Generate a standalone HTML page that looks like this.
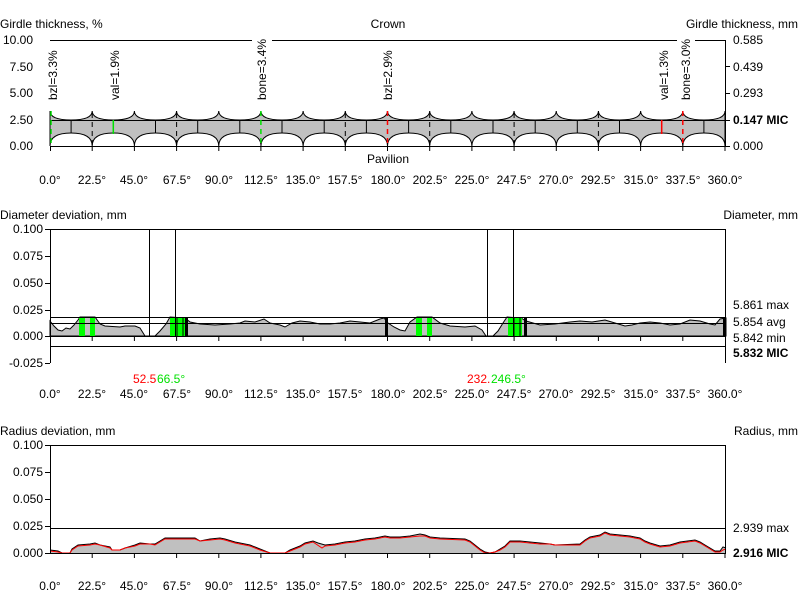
<!DOCTYPE html>
<html><head><meta charset="utf-8"><style>
html,body{margin:0;padding:0;background:#fff;}
svg{display:block;font-family:"Liberation Sans",Arial,sans-serif;font-size:12px;}
.b{font-weight:bold}
</style></head><body>
<svg width="800" height="609" viewBox="0 0 800 609" xmlns="http://www.w3.org/2000/svg">
<!-- ===== TOP PANEL ===== -->
<text x="0" y="28">Girdle thickness, %</text>
<text x="388" y="28" text-anchor="middle">Crown</text>
<text x="798" y="28" text-anchor="end">Girdle thickness, mm</text>
<g text-anchor="end">
<text x="33" y="44">10.00</text><text x="33" y="71">7.50</text><text x="33" y="97">5.00</text><text x="33" y="124">2.50</text><text x="33" y="150">0.00</text>
</g>
<text x="733" y="44">0.585</text><text x="733" y="71">0.439</text><text x="733" y="97">0.293</text><text x="733" y="124" class="b">0.147 MIC</text><text x="733" y="150">0.000</text>
<path d="M50 111
Q50 120 71.09 120 Q92.19 120 92.19 111
Q92.19 120 113.28 120 Q134.38 120 134.38 111
Q134.38 120 155.47 120 Q176.56 120 176.56 111
Q176.56 120 197.66 120 Q218.75 120 218.75 111
Q218.75 120 239.84 120 Q260.94 120 260.94 111
Q260.94 120 282.03 120 Q303.13 120 303.13 111
Q303.13 120 324.22 120 Q345.31 120 345.31 111
Q345.31 120 366.41 120 Q387.5 120 387.5 111
Q387.5 120 408.59 120 Q429.69 120 429.69 111
Q429.69 120 450.78 120 Q471.88 120 471.88 111
Q471.88 120 492.97 120 Q514.06 120 514.06 111
Q514.06 120 535.16 120 Q556.25 120 556.25 111
Q556.25 120 577.34 120 Q598.44 120 598.44 111
Q598.44 120 619.53 120 Q640.63 120 640.63 111
Q640.63 120 661.72 120 Q682.81 120 682.81 111
Q682.81 120 703.91 120 Q725 120 725 111
L725 146
Q725 133 703.91 133 Q682.81 133 682.81 146
Q682.81 133 661.72 133 Q640.63 133 640.63 146
Q640.63 133 619.53 133 Q598.44 133 598.44 146
Q598.44 133 577.34 133 Q556.25 133 556.25 146
Q556.25 133 535.16 133 Q514.06 133 514.06 146
Q514.06 133 492.97 133 Q471.88 133 471.88 146
Q471.88 133 450.78 133 Q429.69 133 429.69 146
Q429.69 133 408.59 133 Q387.5 133 387.5 146
Q387.5 133 366.41 133 Q345.31 133 345.31 146
Q345.31 133 324.22 133 Q303.13 133 303.13 146
Q303.13 133 282.03 133 Q260.94 133 260.94 146
Q260.94 133 239.84 133 Q218.75 133 218.75 146
Q218.75 133 197.66 133 Q176.56 133 176.56 146
Q176.56 133 155.47 133 Q134.38 133 134.38 146
Q134.38 133 113.28 133 Q92.19 133 92.19 146
Q92.19 133 71.09 133 Q50 133 50 146 Z" fill="#c0c0c0" stroke="#000" stroke-width="1"/>
<line x1="50" y1="120.5" x2="725" y2="120.5" stroke="#000"/>
<g stroke="#000">
<line x1="71.1" y1="120" x2="71.1" y2="133"/><line x1="155.5" y1="120" x2="155.5" y2="133"/><line x1="197.7" y1="120" x2="197.7" y2="133"/><line x1="239.8" y1="120" x2="239.8" y2="133"/><line x1="282" y1="120" x2="282" y2="133"/><line x1="324.2" y1="120" x2="324.2" y2="133"/><line x1="366.4" y1="120" x2="366.4" y2="133"/><line x1="408.6" y1="120" x2="408.6" y2="133"/><line x1="450.8" y1="120" x2="450.8" y2="133"/><line x1="493" y1="120" x2="493" y2="133"/><line x1="535.2" y1="120" x2="535.2" y2="133"/><line x1="577.3" y1="120" x2="577.3" y2="133"/><line x1="619.5" y1="120" x2="619.5" y2="133"/><line x1="703.9" y1="120" x2="703.9" y2="133"/>
</g>
<line x1="113.3" y1="120" x2="113.3" y2="134" stroke="#00e000" stroke-width="1.5"/>
<line x1="661.7" y1="120" x2="661.7" y2="134" stroke="#f00" stroke-width="1.5"/>
<g stroke="#000" stroke-dasharray="5,4">
<line x1="92.2" y1="113" x2="92.2" y2="146"/><line x1="176.6" y1="113" x2="176.6" y2="146"/><line x1="345.3" y1="113" x2="345.3" y2="146"/><line x1="429.7" y1="113" x2="429.7" y2="146"/><line x1="514.1" y1="113" x2="514.1" y2="146"/><line x1="598.4" y1="113" x2="598.4" y2="146"/>
</g>
<g stroke-dasharray="5,4" stroke-width="1.5">
<line x1="51" y1="111" x2="51" y2="146" stroke="#00e000"/>
<line x1="260.9" y1="111" x2="260.9" y2="146" stroke="#00e000"/>
<line x1="387.5" y1="111" x2="387.5" y2="146" stroke="#f00"/>
<line x1="682.8" y1="111" x2="682.8" y2="146" stroke="#f00"/>
</g>
<g stroke="#000">
<line x1="50" y1="40.5" x2="252" y2="40.5"/><line x1="272" y1="40.5" x2="677" y2="40.5"/><line x1="695" y1="40.5" x2="726" y2="40.5"/>
<line x1="725.5" y1="40" x2="725.5" y2="146"/>
<line x1="725" y1="66.5" x2="730" y2="66.5"/><line x1="725" y1="93.5" x2="730" y2="93.5"/><line x1="725" y1="120.5" x2="730" y2="120.5"/><line x1="725" y1="146.5" x2="730" y2="146.5"/>
<line x1="50" y1="146.5" x2="726" y2="146.5"/>
<line x1="50.5" y1="146" x2="50.5" y2="151"/><line x1="92.2" y1="146" x2="92.2" y2="151"/><line x1="134.4" y1="146" x2="134.4" y2="151"/><line x1="176.6" y1="146" x2="176.6" y2="151"/><line x1="218.8" y1="146" x2="218.8" y2="151"/><line x1="260.9" y1="146" x2="260.9" y2="151"/><line x1="303.1" y1="146" x2="303.1" y2="151"/><line x1="345.3" y1="146" x2="345.3" y2="151"/><line x1="387.5" y1="146" x2="387.5" y2="151"/><line x1="429.7" y1="146" x2="429.7" y2="151"/><line x1="471.9" y1="146" x2="471.9" y2="151"/><line x1="514.1" y1="146" x2="514.1" y2="151"/><line x1="556.3" y1="146" x2="556.3" y2="151"/><line x1="598.4" y1="146" x2="598.4" y2="151"/><line x1="640.6" y1="146" x2="640.6" y2="151"/><line x1="682.8" y1="146" x2="682.8" y2="151"/><line x1="725" y1="146" x2="725" y2="151"/>
</g>
<g>
<text transform="translate(57,100) rotate(-90)">bzl=3.3%</text>
<text transform="translate(119,100) rotate(-90)">val=1.9%</text>
<text transform="translate(266,100) rotate(-90)">bone=3.4%</text>
<text transform="translate(392,100) rotate(-90)">bzl=2.9%</text>
<text transform="translate(668,100) rotate(-90)">val=1.3%</text>
<text transform="translate(690,100) rotate(-90)">bone=3.0%</text>
</g>
<text x="388" y="163" text-anchor="middle">Pavilion</text>
<g text-anchor="middle">
<text x="50" y="184">0.0°</text><text x="92" y="184">22.5°</text><text x="134" y="184">45.0°</text><text x="177" y="184">67.5°</text><text x="219" y="184">90.0°</text><text x="261" y="184">112.5°</text><text x="303" y="184">135.0°</text><text x="345" y="184">157.5°</text><text x="388" y="184">180.0°</text><text x="430" y="184">202.5°</text><text x="472" y="184">225.0°</text><text x="514" y="184">247.5°</text><text x="556" y="184">270.0°</text><text x="598" y="184">292.5°</text><text x="641" y="184">315.0°</text><text x="683" y="184">337.5°</text><text x="725" y="184">360.0°</text>
</g>

<!-- ===== MIDDLE PANEL ===== -->
<text x="0" y="219">Diameter deviation, mm</text>
<text x="798" y="219" text-anchor="end">Diameter, mm</text>
<g text-anchor="end">
<text x="43" y="233">0.100</text><text x="43" y="260">0.075</text><text x="43" y="287">0.050</text><text x="43" y="314">0.025</text><text x="43" y="340">0.000</text><text x="43" y="367">-0.025</text>
</g>
<text x="733" y="309">5.861 max</text><text x="733" y="326">5.854 avg</text><text x="733" y="342">5.842 min</text><text x="733" y="357" class="b">5.832 MIC</text>
<path d="M50 336 L50 321 L54 326 L58 330 L62 331 L66 328 L70 329 L74 325 L78 320 L80 317 L95 317 L100 324 L105 326 L120 327 L125 326 L135 326 L140 328 L145 336 L155 336 L160 331 L166 324 L170 317 L185 318 L190 322 L200 324 L215 325 L230 324 L240 323 L245 321 L255 322 L264 319 L270 323 L280 325 L285 327 L292 323 L300 321 L310 322 L320 324 L330 324 L340 323 L350 321 L360 322 L370 323 L380 319 L384 318 L388 323 L394 327 L400 330 L405 331 L410 322 L417 317 L432 317 L440 323 L450 326 L465 327 L475 326 L482 330 L486 336 L493 336 L498 331 L503 323 L507 317 L521 318 L526 321 L540 325 L555 324 L570 322 L580 321 L592 322 L605 320 L615 323 L625 326 L632 325 L640 323 L650 322 L660 323 L670 325 L680 324 L690 320 L700 321 L710 324 L715 325 L720 319 L726 318 L726 336 Z" fill="#c0c0c0" stroke="#000" stroke-width="1"/>
<g fill="#00ff00">
<rect x="79" y="317" width="6" height="19"/><rect x="90" y="317" width="5" height="19"/>
<rect x="170" y="317" width="15" height="19"/>
<rect x="416" y="317" width="6" height="19"/><rect x="427" y="317" width="5" height="19"/>
<rect x="508" y="317" width="14" height="19"/>
</g>
<g stroke="#000"><line x1="177" y1="317" x2="177" y2="336"/><line x1="183" y1="317" x2="183" y2="336"/><line x1="514" y1="317" x2="514" y2="336"/><line x1="520" y1="317" x2="520" y2="336"/></g>
<g fill="#000"><rect x="185" y="317" width="3" height="19"/><rect x="385" y="317" width="3" height="19"/><rect x="524" y="317" width="3" height="19"/><rect x="723" y="317" width="3" height="19"/></g>
<g stroke="#000">
<line x1="50" y1="229.5" x2="726" y2="229.5"/>
<line x1="50.5" y1="229" x2="50.5" y2="363"/>
<line x1="725.5" y1="229" x2="725.5" y2="363"/>
<line x1="45" y1="229.5" x2="50" y2="229.5"/><line x1="45" y1="256.5" x2="50" y2="256.5"/><line x1="45" y1="283.5" x2="50" y2="283.5"/><line x1="45" y1="310.5" x2="50" y2="310.5"/><line x1="45" y1="336.5" x2="50" y2="336.5"/><line x1="45" y1="363.5" x2="50" y2="363.5"/>
<line x1="50" y1="317.5" x2="726" y2="317.5"/><line x1="50" y1="323.5" x2="726" y2="323.5"/>
<line x1="50" y1="336.5" x2="726" y2="336.5"/><line x1="50" y1="346.5" x2="726" y2="346.5"/>
<line x1="149.5" y1="229" x2="149.5" y2="336"/><line x1="175.5" y1="229" x2="175.5" y2="336"/>
<line x1="487.5" y1="229" x2="487.5" y2="336"/><line x1="513.5" y1="229" x2="513.5" y2="336"/>
<line x1="92.2" y1="336" x2="92.2" y2="341"/><line x1="134.4" y1="336" x2="134.4" y2="341"/><line x1="176.6" y1="336" x2="176.6" y2="341"/><line x1="218.8" y1="336" x2="218.8" y2="341"/><line x1="260.9" y1="336" x2="260.9" y2="341"/><line x1="303.1" y1="336" x2="303.1" y2="341"/><line x1="345.3" y1="336" x2="345.3" y2="341"/><line x1="387.5" y1="336" x2="387.5" y2="341"/><line x1="429.7" y1="336" x2="429.7" y2="341"/><line x1="471.9" y1="336" x2="471.9" y2="341"/><line x1="514.1" y1="336" x2="514.1" y2="341"/><line x1="556.3" y1="336" x2="556.3" y2="341"/><line x1="598.4" y1="336" x2="598.4" y2="341"/><line x1="640.6" y1="336" x2="640.6" y2="341"/><line x1="682.8" y1="336" x2="682.8" y2="341"/>
</g>
<text x="133" y="383" fill="#f00">52.5</text><text x="157" y="383" fill="#00e000">66.5°</text>
<text x="467" y="383" fill="#f00">232.</text><text x="491" y="383" fill="#00e000">246.5°</text>
<g text-anchor="middle">
<text x="50" y="398">0.0°</text><text x="92" y="398">22.5°</text><text x="134" y="398">45.0°</text><text x="177" y="398">67.5°</text><text x="219" y="398">90.0°</text><text x="261" y="398">112.5°</text><text x="303" y="398">135.0°</text><text x="345" y="398">157.5°</text><text x="388" y="398">180.0°</text><text x="430" y="398">202.5°</text><text x="472" y="398">225.0°</text><text x="514" y="398">247.5°</text><text x="556" y="398">270.0°</text><text x="598" y="398">292.5°</text><text x="641" y="398">315.0°</text><text x="683" y="398">337.5°</text><text x="725" y="398">360.0°</text>
</g>

<!-- ===== BOTTOM PANEL ===== -->
<text x="0" y="435">Radius deviation, mm</text>
<text x="798" y="435" text-anchor="end">Radius, mm</text>
<g text-anchor="end">
<text x="43" y="449">0.100</text><text x="43" y="476">0.075</text><text x="43" y="503">0.050</text><text x="43" y="530">0.025</text><text x="43" y="557">0.000</text>
</g>
<text x="733" y="532">2.939 max</text><text x="733" y="557" class="b">2.916 MIC</text>
<path d="M50 553 L50 550 L58 551 L62 553 L70 553 L72 549 L78 545 L90 544 L95 543 L100 545 L110 547 L112 550 L120 550 L125 548 L135 545 L140 543 L150 544 L155 544 L160 541 L165 538 L195 538 L200 541 L210 539 L220 538 L225 539 L235 542 L250 545 L260 549 L270 553 L285 553 L290 550 L300 546 L305 543 L313 541 L318 543 L325 545 L335 544 L345 542 L355 541 L365 539 L375 538 L385 536 L390 537 L400 537 L410 536 L420 534 L425 535 L430 537 L440 538 L465 539 L470 541 L475 545 L480 549 L485 552 L490 553 L495 552 L500 549 L505 546 L510 541 L520 541 L530 542 L540 543 L550 544 L555 545 L580 544 L585 540 L590 537 L600 535 L605 532 L610 534 L620 535 L630 536 L640 538 L645 541 L650 543 L660 546 L670 545 L680 542 L695 540 L700 542 L705 545 L710 548 L715 551 L720 551 L723 547 L726 548 L726 553 Z" fill="#c0c0c0" stroke="none"/>
<polyline fill="none" stroke="#000" stroke-width="1" points="50,550 58,551 62,553 70,553 72,549 78,545 90,544 95,543 100,545 110,547 112,550 120,550 125,548 135,545 140,543 150,544 155,544 160,541 165,538 195,538 200,541 210,539 220,538 225,539 235,542 250,545 260,549 270,553 285,553 290,550 300,546 305,543 313,541 318,543 325,545 335,544 345,542 355,541 365,539 375,538 385,536 390,537 400,537 410,536 420,534 425,535 430,537 440,538 465,539 470,541 475,545 480,549 485,552 490,553 495,552 500,549 505,546 510,541 520,541 530,542 540,543 550,544 555,545 580,544 585,540 590,537 600,535 605,532 610,534 620,535 630,536 640,538 645,541 650,543 660,546 670,545 680,542 695,540 700,542 705,545 710,548 715,551 720,551 723,547 726,548"/>
<polyline fill="none" stroke="#f00" stroke-width="1" points="50,551 58,552 62,553 70,553 72,550 78,546 90,545 95,544 100,545 110,548 112,550 120,550 125,548 135,546 140,544 150,544 155,545 160,542 165,539 195,539 200,541 210,540 220,539 225,540 235,543 250,546 260,550 270,553 285,553 290,551 300,547 305,544 313,542 322,548 325,546 335,545 345,543 355,542 365,540 375,539 385,537 390,538 400,538 410,537 420,536 425,536 430,538 440,539 465,540 470,542 475,546 480,550 485,553 490,553 495,552 500,550 505,547 510,542 520,542 530,543 540,544 550,544 555,545 580,545 585,541 590,538 600,536 605,533 610,535 620,536 630,537 640,539 645,542 650,544 660,547 670,546 680,543 695,541 700,543 705,546 710,549 715,552 720,552 723,550 726,549"/>
<g stroke="#000">
<line x1="50" y1="445.5" x2="726" y2="445.5"/>
<line x1="50.5" y1="445" x2="50.5" y2="553"/>
<line x1="725.5" y1="445" x2="725.5" y2="553"/>
<line x1="45" y1="445.5" x2="50" y2="445.5"/><line x1="45" y1="472.5" x2="50" y2="472.5"/><line x1="45" y1="499.5" x2="50" y2="499.5"/><line x1="45" y1="526.5" x2="50" y2="526.5"/><line x1="45" y1="553.5" x2="50" y2="553.5"/>
<line x1="50" y1="528.5" x2="726" y2="528.5"/>
<line x1="50" y1="553.5" x2="726" y2="553.5"/>
<line x1="92.2" y1="553" x2="92.2" y2="558"/><line x1="134.4" y1="553" x2="134.4" y2="558"/><line x1="176.6" y1="553" x2="176.6" y2="558"/><line x1="218.8" y1="553" x2="218.8" y2="558"/><line x1="260.9" y1="553" x2="260.9" y2="558"/><line x1="303.1" y1="553" x2="303.1" y2="558"/><line x1="345.3" y1="553" x2="345.3" y2="558"/><line x1="387.5" y1="553" x2="387.5" y2="558"/><line x1="429.7" y1="553" x2="429.7" y2="558"/><line x1="471.9" y1="553" x2="471.9" y2="558"/><line x1="514.1" y1="553" x2="514.1" y2="558"/><line x1="556.3" y1="553" x2="556.3" y2="558"/><line x1="598.4" y1="553" x2="598.4" y2="558"/><line x1="640.6" y1="553" x2="640.6" y2="558"/><line x1="682.8" y1="553" x2="682.8" y2="558"/><line x1="725" y1="553" x2="725" y2="558"/>
</g>
<g text-anchor="middle">
<text x="50" y="590">0.0°</text><text x="92" y="590">22.5°</text><text x="134" y="590">45.0°</text><text x="177" y="590">67.5°</text><text x="219" y="590">90.0°</text><text x="261" y="590">112.5°</text><text x="303" y="590">135.0°</text><text x="345" y="590">157.5°</text><text x="388" y="590">180.0°</text><text x="430" y="590">202.5°</text><text x="472" y="590">225.0°</text><text x="514" y="590">247.5°</text><text x="556" y="590">270.0°</text><text x="598" y="590">292.5°</text><text x="641" y="590">315.0°</text><text x="683" y="590">337.5°</text><text x="725" y="590">360.0°</text>
</g>
</svg>
</body></html>
